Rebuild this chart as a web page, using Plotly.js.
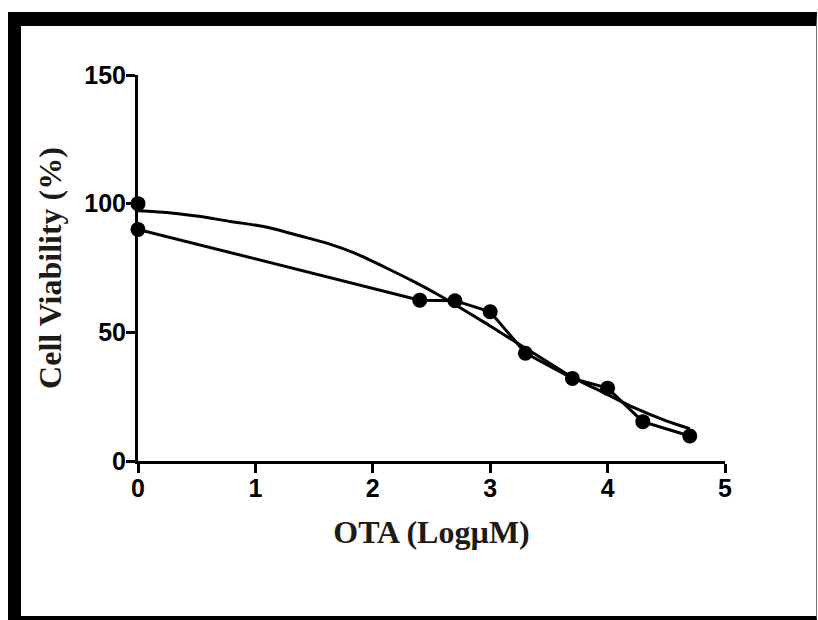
<!DOCTYPE html>
<html>
<head>
<meta charset="utf-8">
<script src="https://cdn.plot.ly/plotly-3.0.1.min.js"></script>
<style>
  html, body { margin: 0; padding: 0; background: #fff; }
  #wrap { position: relative; width: 818px; height: 620px; overflow: hidden; }
  #chart { position: absolute; left: 0; top: 0; width: 818px; height: 620px; }
  #frame {
    position: absolute; left: 8px; top: 12px; width: 809px; height: 608px;
    box-sizing: border-box; pointer-events: none;
    border-left: 13px solid #000; border-top: 14px solid #000;
    border-bottom: 4px solid #000; border-right: 1px solid #777;
  }
</style>
</head>
<body>
<div id="wrap">
  <div id="chart"></div>
  <div id="frame"></div>
</div>
<script>
// Measured data (log concentration vs viability %)
const controlX = [0];
const controlY = [100];

const dataX = [0, 2.4, 2.7, 3.0, 3.3, 3.7, 4.0, 4.3, 4.7];
const dataY = [90, 62.5, 62.3, 58, 41.9, 32.1, 28.3, 15.3, 9.7];

// Fitted curve
const fitX = [0, 0.3, 0.5, 0.8, 1.07, 1.35, 1.64, 1.84, 2.12, 2.35, 2.55, 2.7, 2.91, 3.0, 3.26, 3.5, 3.7, 4.0, 4.22, 4.5, 4.7];
const fitY = [97.2, 96.3, 95.2, 93.0, 91.1, 87.8, 84.2, 80.9, 74.9, 69.7, 64.8, 60.8, 55, 52.5, 45, 38.2, 32.6, 25.8, 20.8, 15.6, 12.6];

const xTicks = [0, 1, 2, 3, 4, 5];
const yTicks = [0, 50, 100, 150];

const traces = [
  { x: fitX, y: fitY, mode: 'lines', line: { color: '#000', width: 3, shape: 'spline', smoothing: 1.1 }, cliponaxis: false, hoverinfo: 'skip' },
  { x: dataX, y: dataY, mode: 'lines+markers', line: { color: '#000', width: 3 }, marker: { color: '#000', size: 15 }, cliponaxis: false },
  { x: controlX, y: controlY, mode: 'markers', marker: { color: '#000', size: 15 }, cliponaxis: false }
];

const tickFont = { family: 'Liberation Sans, Arial, sans-serif', size: 25, color: '#000', weight: 'bold' };
const titleFont = { family: 'Liberation Serif, Times New Roman, serif', size: 32, color: '#1e1a14', weight: 'bold' };

const layout = {
  width: 818, height: 620,
  margin: { l: 138, r: 93, t: 75, b: 159 },
  paper_bgcolor: '#fff', plot_bgcolor: '#fff',
  showlegend: false,
  xaxis: {
    range: [0, 5], tickvals: xTicks, ticktext: xTicks.map(String),
    showline: true, linecolor: '#000', linewidth: 3,
    ticks: 'outside', ticklen: 9, tickwidth: 3, tickcolor: '#000',
    ticklabelstandoff: -6,
    showgrid: false, zeroline: false, tickfont: tickFont,
    title: { text: 'OTA (LogµM)', font: titleFont, standoff: 20 }
  },
  yaxis: {
    range: [0, 150], tickvals: yTicks, ticktext: yTicks.map(String),
    showline: true, linecolor: '#000', linewidth: 3,
    ticks: 'outside', ticklen: 9, tickwidth: 3, tickcolor: '#000',
    ticklabelstandoff: -5,
    showgrid: false, zeroline: false, tickfont: tickFont,
    title: { text: 'Cell Viability (%)', font: titleFont, standoff: 14 }
  }
};

Plotly.newPlot('chart', traces, layout, { staticPlot: true });
</script>
</body>
</html>
